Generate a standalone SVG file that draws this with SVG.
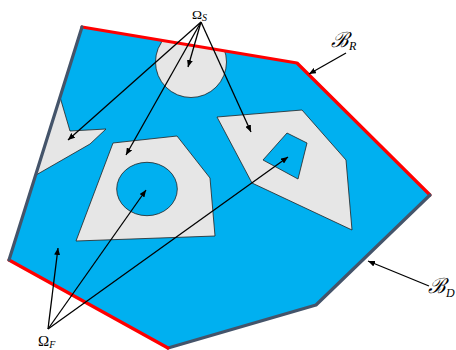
<svg xmlns="http://www.w3.org/2000/svg" width="456" height="350" viewBox="0 0 456 350">
<style>
.dom{fill:#00B0F0;stroke:none}
.solid{fill:#E6E6E6;stroke:#222;stroke-width:0.8}
.hole{fill:#00B0F0;stroke:#222;stroke-width:0.8}
.red{stroke:#FF0000;stroke-width:3.2;fill:none;stroke-linecap:round;stroke-linejoin:round}
.gray{stroke:#44546A;stroke-width:3.2;fill:none;stroke-linecap:round;stroke-linejoin:round}
.arr{stroke:#000;stroke-width:1.3;fill:none;marker-end:url(#ah)}
.lbl{font-family:"Liberation Serif","DejaVu Serif",serif;fill:#000}
.sub{font-family:"Liberation Serif","DejaVu Serif",serif;font-style:italic;fill:#000}
</style>
<defs>
<clipPath id="domclip"><polygon points="82,27 297,63 430,195 316,305 168,348 9,260"/></clipPath>
<marker id="ah" markerUnits="userSpaceOnUse" markerWidth="8" markerHeight="6" refX="7" refY="3" orient="auto"><path d="M0,0 L7,3 L0,6 z" fill="#000"/></marker>
</defs>
<g id="domain">
<polygon class="dom" points="82,27 297,63 430,195 316,305 168,348 9,260"/>
</g>
<g id="solid-top" clip-path="url(#domclip)">
<circle class="solid" cx="191" cy="62" r="35.5"/>
</g>
<g id="solid-left">
<polygon class="solid" points="60,97 70,131 106,129 90,144 36,175"/>
</g>
<g id="solid-mid">
<polygon class="solid" points="113,143 177,136 210,178 215,236 76,241"/>
<ellipse class="hole" cx="147" cy="189" rx="30.3" ry="26.7"/>
</g>
<g id="solid-right">
<polygon class="solid" points="217,117 302,110 346,160 352,230 252,183"/>
<polygon class="hole" points="287,133 307,143 298,179 263,160"/>
</g>
<g id="boundary">
<polyline class="red" points="82,27 297,63 430,195"/>
<polyline class="gray" points="430,195 316,305 168,348"/>
<polyline class="red" points="168,348 9,260"/>
<polyline class="gray" points="9,260 82,27"/>
</g>
<g id="connectors">
<line class="arr" x1="201" y1="22" x2="68" y2="140"/>
<line class="arr" x1="201" y1="22" x2="126" y2="155"/>
<line class="arr" x1="201" y1="22" x2="188" y2="67"/>
<line class="arr" x1="201" y1="22" x2="251" y2="132"/>
<line class="arr" x1="48" y1="329" x2="58" y2="248"/>
<line class="arr" x1="48" y1="329" x2="146" y2="190"/>
<line class="arr" x1="48" y1="329" x2="288" y2="157"/>
<line class="arr" x1="346" y1="53" x2="309" y2="74"/>
<line class="arr" x1="429" y1="286" x2="368" y2="261"/>
</g>
<g id="labels">
<text class="lbl" x="192" y="18.5" font-size="13.5">Ω<tspan class="sub" font-size="10" dy="2">S</tspan></text>
<text class="lbl" x="38" y="345.5" font-size="15">Ω<tspan class="sub" font-size="10" dy="2.5">F</tspan></text>
<text class="lbl" x="331" y="47" font-size="21" font-style="italic">ℬ<tspan class="sub" font-size="12" dy="3">R</tspan></text>
<text class="lbl" x="428" y="293" font-size="21" font-style="italic">ℬ<tspan class="sub" font-size="12" dy="4">D</tspan></text>
</g>
</svg>
